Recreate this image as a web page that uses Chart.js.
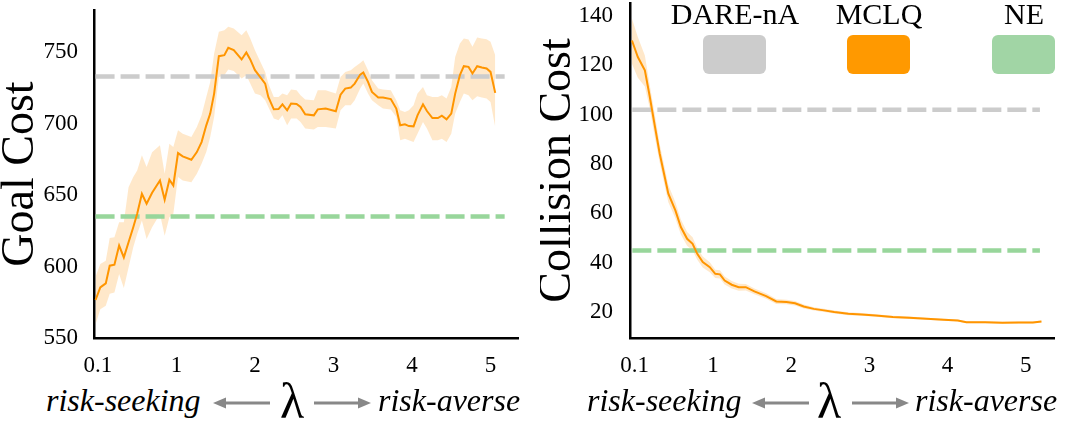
<!DOCTYPE html>
<html><head><meta charset="utf-8">
<script src="https://cdn.jsdelivr.net/npm/chart.js@4"></script>
<style>
html,body{margin:0;padding:0;background:#fff;}
body{width:1077px;height:425px;overflow:hidden;position:relative;font-family:'Liberation Serif',serif;color:#000;}
canvas{position:absolute;top:0;}
#c1{left:0;} #c2{left:540px;}
.lbox{position:absolute;top:35px;width:63px;height:39px;border-radius:6px;}
.ltxt{position:absolute;top:-1px;width:200px;text-align:center;font-size:30px;line-height:30px;white-space:nowrap;}
.xl{position:absolute;font-style:italic;font-size:32px;line-height:32px;white-space:nowrap;top:384px;}
.lam{position:absolute;font-size:50px;line-height:50px;top:376px;}
.arr{position:absolute;top:396px;}
</style></head>
<body>
<canvas id="c1" width="540" height="380"></canvas>
<canvas id="c2" width="537" height="380"></canvas>

<div class="ltxt" style="left:635px">DARE-nA</div>
<div class="ltxt" style="left:779px">MCLQ</div>
<div class="ltxt" style="left:924px">NE</div>
<div class="lbox" style="left:703px;background:#cccccc"></div>
<div class="lbox" style="left:847px;background:#ff9900"></div>
<div class="lbox" style="left:992px;background:#a1d5a5"></div>

<div class="xl" style="left:46px">risk-seeking</div>
<svg class="arr" style="left:213px" width="57" height="14"><line x1="10" y1="7" x2="57" y2="7" stroke="#888" stroke-width="3"/><polygon points="0,7 13,1.5 13,12.5" fill="#888"/></svg>
<div class="lam" style="left:280px">λ</div>
<svg class="arr" style="left:314px" width="57" height="14"><line x1="0" y1="7" x2="47" y2="7" stroke="#888" stroke-width="3"/><polygon points="57,7 44,1.5 44,12.5" fill="#888"/></svg>
<div class="xl" style="left:378px">risk-averse</div>

<div class="xl" style="left:587px">risk-seeking</div>
<svg class="arr" style="left:752px" width="57" height="14"><line x1="10" y1="7" x2="57" y2="7" stroke="#888" stroke-width="3"/><polygon points="0,7 13,1.5 13,12.5" fill="#888"/></svg>
<div class="lam" style="left:817px">λ</div>
<svg class="arr" style="left:852px" width="57" height="14"><line x1="0" y1="7" x2="47" y2="7" stroke="#888" stroke-width="3"/><polygon points="57,7 44,1.5 44,12.5" fill="#888"/></svg>
<div class="xl" style="left:915px">risk-averse</div>

<script>
// ---- data ----
const xTickValues = [0, 1, 2, 3, 4, 5];
const xTickLabels = ['0.1', '1', '2', '3', '4', '5'];
const goalYTicks = [550, 600, 650, 700, 750];
const colYTicks = [20, 40, 60, 80, 100, 120, 140];
const baselineSpan = [-0.03, 5.18];

const goalLambda = [-0.03,0.03,0.10,0.15,0.21,0.27,0.33,0.39,0.45,0.50,0.56,0.62,0.69,0.79,0.85,0.91,0.96,1.02,1.08,1.19,1.26,1.32,1.38,1.43,1.48,1.54,1.61,1.66,1.73,1.83,1.89,1.94,2.00,2.07,2.13,2.17,2.24,2.30,2.35,2.41,2.46,2.53,2.58,2.64,2.75,2.80,2.90,3.03,3.09,3.15,3.22,3.27,3.34,3.38,3.44,3.49,3.57,3.63,3.73,3.80,3.85,3.91,3.96,4.02,4.07,4.14,4.19,4.26,4.33,4.38,4.44,4.50,4.55,4.61,4.66,4.72,4.77,4.83,4.89,4.95,5.00,5.06];
const goalMean = [576.6,585.4,588.2,600.6,601.3,614.7,606.4,617,627.5,636.9,650.9,643.9,651.6,660.2,646.7,660.7,656.7,679.4,677.1,674.7,680.1,687.1,698.8,707,721,747.2,747.9,753,751.4,744.9,749.8,744.9,737.4,732.3,728,718.7,710,710.2,713.5,709.3,714,713.7,711.6,706.5,705.8,710,710.5,708.6,720.3,724.5,725.2,728,734.3,735.8,729.2,722.2,718.2,718.2,717.2,710.5,698.8,699.5,698.3,698.1,705.8,713.5,708.8,703.9,703.9,705.6,703,707,721,733.9,740.2,739.7,735.1,740.2,739.3,738.6,736.2,721.5];
const goalHigh = [592.9,601.8,604,620,620.5,631,631,655.5,662.6,667.2,677.8,669.6,680,684.8,665,686,683.6,695.3,693,690.6,697.6,705.8,718.7,729.2,749,764.3,765.4,767.8,766.6,761.9,765.4,759.6,751.4,743.2,736.2,728,718.7,718.7,721,719.8,723.8,723.3,719.8,716.8,716.3,723.3,723.3,721,732.7,736.2,737.4,739.7,742.5,744.4,737.4,730.4,724.5,723.8,723.3,716.3,709.3,708.2,709.3,712.8,721,725.7,719.8,718.7,718.7,719.8,717.5,725.7,746.7,756.1,759.6,758.9,753.7,760.3,759.6,759.1,757.2,747.9];
const goalLow = [559.7,570.2,572.5,581,581.9,594.8,585,599.4,613.5,622.8,632.2,619.3,627.5,636.8,621.6,634.5,636.8,662.6,660.2,659,664.9,671.9,680.1,690.6,704.6,732.7,733.9,737.8,736.9,731.5,733.9,728,721,719.8,716.3,711.6,703.5,702.3,705.8,698.8,703.5,703.5,701.1,696.5,695.8,697.6,697.6,696.5,709.3,712.8,712.8,716.3,724.5,728,721,716.3,712.8,710.5,709.8,704.6,688.3,689.4,688.3,687.1,693,701.1,696.5,688.3,688.3,689.4,687.1,693,707,715.2,721,719.8,716.3,719.1,718.2,717.5,715.2,697.6];
const goalDARE = 733;
const goalNE = 635;

const colLambda = [-0.035,0.04,0.13,0.19,0.26,0.32,0.43,0.52,0.59,0.67,0.74,0.80,0.87,0.96,1.03,1.09,1.15,1.24,1.33,1.42,1.53,1.68,1.81,1.94,2.05,2.16,2.29,2.42,2.55,2.73,2.90,3.08,3.30,3.51,3.73,3.95,4.13,4.24,4.48,4.70,4.91,5.09,5.20];
const colMean = [130.1,123.4,118,107.8,95,84.2,68,61.2,54.5,49.7,47.7,43.6,40.3,38.2,35.5,35.3,32.8,31.1,30.1,30.1,28.4,26.5,24.3,24.1,23.6,22.3,21.3,20.7,20,19.3,19.05,18.6,18,17.7,17.3,16.9,16.6,15.9,15.9,15.7,15.8,15.8,16.2];
const colHigh = [138.9,131.5,124,112.5,99.5,88,71.5,64.5,57.5,52.5,50.3,46,42.5,40.2,37.2,37,34.4,32.6,31.5,31.4,29.6,27.6,25.3,25,24.5,23.1,22,21.4,20.6,19.9,19.6,19.1,18.5,18.2,17.7,17.3,17,16.3,16.3,16.1,16.2,16.2,16.6];
const colLow = [120.7,115,111.5,103,90.5,80.5,64.5,58,51.5,46.9,45.1,41.2,38.1,36.2,33.8,33.6,31.2,29.6,28.7,28.8,27.2,25.4,23.3,23.2,22.7,21.5,20.6,20,19.4,18.7,18.5,18.1,17.5,17.2,16.9,16.5,16.2,15.5,15.5,15.3,15.4,15.4,15.8];
const colDARE = 102;
const colNE = 45;

// ---- styles ----
const ORANGE = '#ff9500';
const BAND = 'rgba(255,170,60,0.27)';
const GRAY = '#cccccc';
const GREEN = '#98d69b';
const FAM = "'Liberation Serif', serif";

function pts(xs, ys) { return xs.map((x, i) => ({x: x, y: ys[i]})); }
function hline(v) { return baselineSpan.map(x => ({x: x, y: v})); }

function build(id, o) {
  return new Chart(document.getElementById(id), {
    type: 'line',
    data: { datasets: [
      {data: pts(o.xs, o.mean), borderColor: ORANGE, borderWidth: 2, pointRadius: 0, tension: 0, fill: false},
      {data: hline(o.dare), borderColor: GRAY, borderWidth: 4.5, borderDash: [19, 6], pointRadius: 0, fill: false},
      {data: hline(o.ne), borderColor: GREEN, borderWidth: 4.5, borderDash: [19, 6], pointRadius: 0, fill: false},
      {data: pts(o.xs, o.low), borderColor: 'rgba(0,0,0,0)', borderWidth: 0, pointRadius: 0, fill: false},
      {data: pts(o.xs, o.high), borderColor: 'rgba(0,0,0,0)', borderWidth: 0, pointRadius: 0, fill: '-1', backgroundColor: BAND}
    ]},
    options: {
      responsive: false, animation: false, devicePixelRatio: 1,
      layout: {padding: {top: o.top, right: o.padRight, left: 0, bottom: 0}},
      plugins: {legend: {display: false}, tooltip: {enabled: false}},
      scales: {
        x: {
          type: 'linear', min: o.xmin, max: o.xmax,
          afterBuildTicks: s => { s.ticks = xTickValues.map(v => ({value: v})); },
          ticks: {callback: (v, i) => xTickLabels[i], font: {family: FAM, size: 23}, color: '#000', padding: 6, maxRotation: 0, autoSkip: false},
          grid: {display: false},
          border: {display: true, color: '#000', width: 2.5},
          afterFit: s => { s.height = 380 - 338; s.paddingLeft = 0; s.paddingRight = 0; }
        },
        y: {
          min: o.ymin, max: o.ymax,
          afterBuildTicks: s => { s.ticks = o.yticks.map(v => ({value: v})); },
          ticks: {font: {family: FAM, size: 23}, color: '#000', padding: o.ypad},
          grid: {display: false},
          border: {display: true, color: '#000', width: 2.5},
          title: {display: true, text: o.title, color: '#000', font: {family: FAM, size: 46, lineHeight: o.tlh}, padding: 0},
          afterFit: s => { s.width = o.yw; s.paddingTop = 0; s.paddingBottom = 0; }
        }
      }
    }
  });
}

build('c1', {xs: goalLambda, mean: goalMean, low: goalLow, high: goalHigh, dare: goalDARE, ne: goalNE,
  top: 10, padRight: 22, xmin: -0.05, xmax: 5.35, ymin: 550, ymax: 779.5, yticks: goalYTicks,
  ypad: 8, yw: 94, title: 'Goal Cost', tlh: 0.92});
build('c2', {xs: colLambda, mean: colMean, low: colLow, high: colHigh, dare: colDARE, ne: colNE,
  top: 3, padRight: 23, xmin: -0.06, xmax: 5.36, ymin: 9.5, ymax: 145.3, yticks: colYTicks,
  ypad: 9, yw: 90, title: 'Collision Cost', tlh: 0.78});
</script>
</body></html>
